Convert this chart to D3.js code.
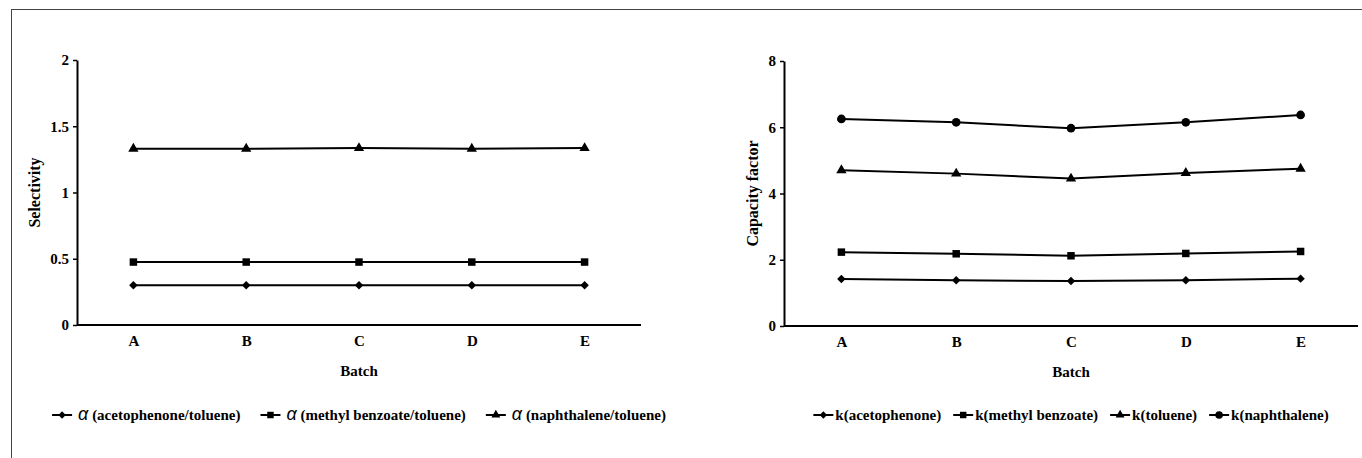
<!DOCTYPE html>
<html>
<head>
<meta charset="utf-8">
<script src="https://cdn.jsdelivr.net/npm/d3@7"></script>
<style>
  body { margin: 0; background: #fff; }
  svg text { font-family: "Liberation Serif", "Times New Roman", serif; font-weight: bold; fill: #000; }
  .axis path, .axis line { stroke: #000; }
  .alpha { font-family: "Liberation Sans", Arial, sans-serif; font-style: italic; font-weight: normal; }
</style>
</head>
<body>
<div id="chart-area"></div>
<script>

// DATA
let batches = ["A", "B", "C", "D", "E"];

let selAcetophenone = [0.30, 0.30, 0.30, 0.30, 0.30];
let selMethylBenzoate = [0.475, 0.475, 0.475, 0.475, 0.475];
let selNaphthalene = [1.33, 1.33, 1.335, 1.33, 1.335];
let selTicks = [0, 0.5, 1, 1.5, 2];

let kAcetophenone = [1.42, 1.38, 1.36, 1.38, 1.43];
let kMethylBenzoate = [2.23, 2.18, 2.12, 2.19, 2.25];
let kToluene = [4.70, 4.60, 4.45, 4.62, 4.75];
let kNaphthalene = [6.25, 6.15, 5.97, 6.15, 6.37];
let kTicks = [0, 2, 4, 6, 8];

// diamond drawn as a square turned 45 degrees (wider than d3.symbolDiamond)
let diamond = {
	draw: function(ctx, size) {
		let r = Math.sqrt(size / 2);
		ctx.moveTo(0, -r); ctx.lineTo(r, 0); ctx.lineTo(0, r); ctx.lineTo(-r, 0); ctx.closePath();
	}
};

let selSeries = [
	{alpha: true, name: " (acetophenone/toluene)", values: selAcetophenone, symbol: diamond, size: 36},
	{alpha: true, name: " (methyl benzoate/toluene)", values: selMethylBenzoate, symbol: d3.symbolSquare, size: 56},
	{alpha: true, name: " (naphthalene/toluene)", values: selNaphthalene, symbol: d3.symbolTriangle, size: 46}
];
let kSeries = [
	{name: "k(acetophenone)", values: kAcetophenone, symbol: diamond, size: 36},
	{name: "k(methyl benzoate)", values: kMethylBenzoate, symbol: d3.symbolSquare, size: 56},
	{name: "k(toluene)", values: kToluene, symbol: d3.symbolTriangle, size: 46},
	{name: "k(naphthalene)", values: kNaphthalene, symbol: d3.symbolCircle, size: 60}
];

let svg = d3.select("#chart-area").append("svg")
	.attr("width", 1362)
	.attr("height", 458);

// outer frame
svg.append("rect")
	.attr("x", 11.5).attr("y", 9.5)
	.attr("width", 1400).attr("height", 500)
	.attr("fill", "none").attr("stroke", "#444").attr("stroke-width", 1);

function drawPanel(cfg) {
	let x = d3.scalePoint().domain(batches).range([cfg.x0, cfg.x1]).padding(0.5);
	let y = d3.scaleLinear().domain([0, cfg.max]).range([cfg.y1, cfg.y0]);

	let g = svg.append("g");

	// y axis
	g.append("g")
		.attr("class", "axis")
		.attr("transform", "translate(" + cfg.x0 + ",0)")
		.call(d3.axisLeft(y).tickValues(cfg.ticks).tickSizeInner(4).tickSizeOuter(0).tickPadding(4).tickFormat(d => String(d)))
		.call(a => a.select("path").attr("stroke-width", 2))
		.call(a => a.selectAll("line").attr("stroke-width", 1.5))
		.call(a => a.selectAll("text").attr("font-size", 15).style("font-family", null));

	// x axis
	g.append("g")
		.attr("class", "axis")
		.attr("transform", "translate(0," + cfg.y1 + ")")
		.call(d3.axisBottom(x).tickSize(0).tickPadding(10))
		.call(a => a.select("path").attr("d", "M" + cfg.x0 + ",0H" + cfg.x1).attr("stroke-width", 2))
		.call(a => a.selectAll("text").attr("font-size", 15).style("font-family", null));

	// axis titles
	g.append("text")
		.attr("x", (cfg.x0 + cfg.x1) / 2)
		.attr("y", cfg.y1 + 51)
		.attr("text-anchor", "middle")
		.attr("font-size", 15)
		.text("Batch");

	g.append("text")
		.attr("transform", "translate(" + cfg.titleX + "," + ((cfg.y0 + cfg.y1) / 2) + ") rotate(-90)")
		.attr("text-anchor", "middle")
		.attr("dy", "0.35em")
		.attr("font-size", 16)
		.text(cfg.title);

	// lines + markers
	let line = d3.line().x((d, i) => x(batches[i])).y(d => y(d));
	cfg.series.forEach(s => {
		g.append("path")
			.attr("d", line(s.values))
			.attr("fill", "none")
			.attr("stroke", "#000")
			.attr("stroke-width", 2);
		g.selectAll(null)
			.data(s.values)
			.enter()
			.append("path")
			.attr("transform", (d, i) => "translate(" + x(batches[i]) + "," + y(d) + ")")
			.attr("d", d3.symbol().type(s.symbol).size(s.size))
			.attr("fill", "#000");
	});

	// legend
	let lg = g.append("g");
	let cx = 0;
	cfg.series.forEach(s => {
		let item = lg.append("g").attr("transform", "translate(" + cx + ",0)");
		item.append("line")
			.attr("x1", 0).attr("x2", 20)
			.attr("stroke", "#000").attr("stroke-width", 2);
		item.append("path")
			.attr("transform", "translate(10,0)")
			.attr("d", d3.symbol().type(s.symbol).size(s.size * 0.75))
			.attr("fill", "#000");
		let t = item.append("text")
			.attr("x", s.alpha ? 26 : 22)
			.attr("dy", "0.35em")
			.attr("font-size", 15);
		if (s.alpha) {
			t.append("tspan").attr("class", "alpha").attr("font-size", 18).text("α");
		}
		t.append("tspan").text(s.name);
		let w = item.node().getBBox().width;
		cx += w + cfg.legendGap;
	});
	let lw = lg.node().getBBox().width;
	lg.attr("transform", "translate(" + ((cfg.x0 + cfg.x1) / 2 - lw / 2) + "," + cfg.legendY + ")");
}

drawPanel({
	x0: 77, x1: 641, y0: 60, y1: 325, max: 2, ticks: selTicks,
	title: "Selectivity", titleX: 34, series: selSeries,
	legendY: 415, legendGap: 20
});

drawPanel({
	x0: 784, x1: 1358, y0: 61, y1: 326, max: 8, ticks: kTicks,
	title: "Capacity factor", titleX: 752, series: kSeries,
	legendY: 415, legendGap: 12
});

</script>
</body>
</html>
